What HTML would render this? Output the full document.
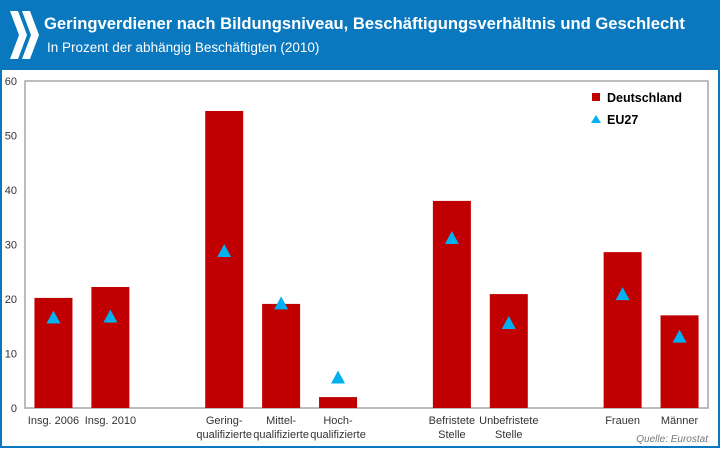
<!DOCTYPE html>
<html><head><meta charset="utf-8"><style>
body{margin:0;width:720px;height:450px;overflow:hidden;font-family:"Liberation Sans",sans-serif;background:#fff}
#frame{position:absolute;left:0;top:0;width:716px;height:446px;border:2px solid #0a78be;border-top:none;}
#header{position:absolute;left:0;top:0;width:720px;height:70px;background:#0a78be;color:#fff}
</style></head><body>
<div id="frame"></div>
<div id="header">
<svg width="40" height="60" style="position:absolute;left:8px;top:8px">
<polygon points="2,3 10,3 19,27 10,51 2,51 11,27" fill="#fff"/>
<polygon points="14,3 22,3 31,27 22,51 14,51 23,27" fill="#fff"/>
</svg>
<div style="position:absolute;left:44px;top:14px;font-size:16.6px;font-weight:bold;white-space:nowrap">Geringverdiener nach Bildungsniveau, Beschäftigungsverhältnis und Geschlecht</div>
<div style="position:absolute;left:47px;top:40px;font-size:13.5px;white-space:nowrap">In Prozent der abhängig Beschäftigten (2010)</div>
</div>
<svg id="chart" width="720" height="450" style="position:absolute;left:0;top:0"></svg>
<script>
const categories=["Insg. 2006","Insg. 2010","","Gering-|qualifizierte","Mittel-|qualifizierte","Hoch-|qualifizierte","","Befristete|Stelle","Unbefristete|Stelle","","Frauen","Männer"];
const deValues=[20.2,22.2,null,54.5,19.1,2.0,null,38.0,20.9,null,28.6,17.0];
const euValues=[16.6,16.8,null,28.8,19.2,5.6,null,31.2,15.6,null,20.9,13.1];
const yTicks=[0,10,20,30,40,50,60];
const NS="http://www.w3.org/2000/svg";
const svg=document.getElementById('chart');
const L=25,R=708,T=81,B=408;
const x=i=>L+(R-L)/categories.length*(i+0.5);
const y=v=>B-(B-T)*v/60;
function mk(t,a,p){const e=document.createElementNS(NS,t);for(const k in a)e.setAttribute(k,a[k]);(p||svg).appendChild(e);return e;}
const plot=mk('rect',{x:L,y:T,width:R-L,height:B-T,fill:'none',stroke:'#a6a6a6','stroke-width':1.5});


yTicks.forEach(v=>{
 const t=mk('text',{x:17,y:y(v)+4,'text-anchor':'end','font-size':11,fill:'#333'});t.textContent=v;
 
 
});
categories.forEach((c,i)=>{
 if(!c)return;
 const lines=c.split('|');
 lines.forEach((ln,j)=>{
  const t=mk('text',{x:x(i),y:424+j*14,'text-anchor':'middle','font-size':11,fill:'#333'});t.textContent=ln;
  
  
 });
 if(deValues[i]!=null){
  const r=mk('rect',{x:x(i)-19,y:y(deValues[i]),width:38,height:B-y(deValues[i]),fill:'#c00000'});
  
  
 }
 if(euValues[i]!=null){
  const cx=x(i),cy=y(euValues[i]);
  const p=mk('polygon',{points:`${cx},${cy-7} ${cx-7},${cy+6} ${cx+7},${cy+6}`,fill:'#00b0f0'});
  
  
 }
});
const g1=mk('rect',{x:592,y:93,width:8,height:8,fill:'#c00000'});


const l1=mk('text',{x:607,y:102,'font-size':12.5,'font-weight':'bold',fill:'#000'});l1.textContent='Deutschland';


const g2=mk('polygon',{points:'596,115 591,123 601,123',fill:'#00b0f0'});


const l2=mk('text',{x:607,y:124,'font-size':12.5,'font-weight':'bold',fill:'#000'});l2.textContent='EU27';


const s=mk('text',{x:708,y:442,'text-anchor':'end','font-size':10,fill:'#777','font-style':'italic'});s.textContent='Quelle: Eurostat';


</script>
</body></html>
